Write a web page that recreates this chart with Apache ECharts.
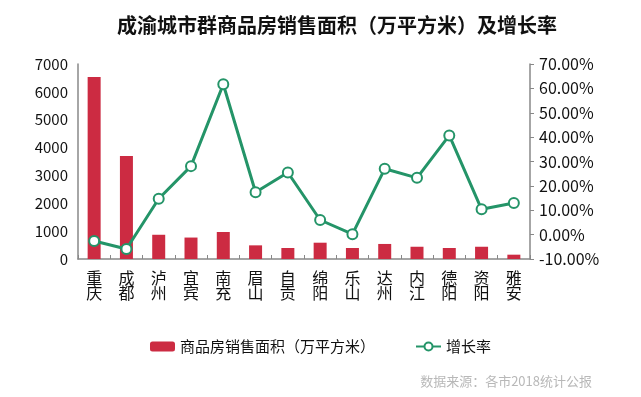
<!DOCTYPE html>
<html>
<head>
<meta charset="utf-8">
<script src="https://cdn.jsdelivr.net/npm/echarts@6/dist/echarts.min.js"></script>
<style>
  html, body { margin: 0; padding: 0; background: #fff; }
  #main { width: 641px; height: 397px; }
</style>
</head>
<body>
<div id="main"></div>
<script>
// data
const cities = ['重庆', '成都', '泸州', '宜宾', '南充', '眉山', '自贡', '绵阳', '乐山', '达州', '内江', '德阳', '资阳', '雅安'];
const salesArea = [6530, 3700, 870, 770, 970, 490, 395, 585, 395, 540, 440, 395, 440, 155];
const growthRate = [-2.6, -5.9, 14.7, 28.1, 61.7, 17.4, 25.5, 6.0, 0.2, 27.0, 23.3, 40.7, 10.4, 13.0];

const font = '"Noto Sans CJK SC", "Noto Sans", sans-serif';

let chart = echarts.init(document.getElementById('main'));

let option = {
    backgroundColor: '#fff',
    textStyle: { fontFamily: font },
    title: [{
        text: '成渝城市群商品房销售面积（万平方米）及增长率',
        left: 112,
        top: 10,
        textStyle: { fontSize: 20, fontWeight: 'bold', color: '#111', fontFamily: font }
    }, {
        text: '数据来源：各市2018统计公报',
        right: 44,
        top: 370,
        textStyle: { fontSize: 13, fontWeight: 'normal', color: '#b8b8b8', fontFamily: font }
    }],
    legend: {
        bottom: 38,
        left: 'center',
        itemWidth: 25,
        itemHeight: 10,
        itemGap: 40,
        textStyle: { fontSize: 15, color: '#111', fontFamily: font },
        data: ['商品房销售面积（万平方米）', '增长率']
    },
    grid: { left: 78, right: 111, top: 64, bottom: 138 },
    xAxis: {
        type: 'category',
        data: cities,
        axisLine: { lineStyle: { color: '#888', width: 1.5 } },
        axisTick: { show: true, inside: true, length: 4, lineStyle: { color: '#888' } },
        axisLabel: {
            color: '#111',
            fontSize: 16,
            lineHeight: 15,
            interval: 0,
            margin: 11,
            formatter: v => v.split('').join('\n')
        }
    },
    yAxis: [{
        type: 'value',
        min: 0,
        max: 7000,
        interval: 1000,
        axisLine: { show: true, lineStyle: { color: '#888', width: 1.5 } },
        axisTick: { show: false },
        splitLine: { show: false },
        axisLabel: { color: '#111', fontSize: 15, margin: 10, formatter: v => String(v) }
    }, {
        type: 'value',
        min: -10,
        max: 70,
        interval: 10,
        axisLine: { show: true, lineStyle: { color: '#888', width: 1.5 } },
        axisTick: { show: true, length: 4, lineStyle: { color: '#888' } },
        splitLine: { show: false },
        axisLabel: { color: '#111', fontSize: 16, margin: 9, formatter: v => v.toFixed(2) + '%' }
    }],
    series: [{
        name: '商品房销售面积（万平方米）',
        type: 'bar',
        data: salesArea,
        barWidth: 13,
        itemStyle: { color: '#cc2b42' }
    }, {
        name: '增长率',
        type: 'line',
        yAxisIndex: 1,
        data: growthRate,
        symbol: 'emptyCircle',
        symbolSize: 10,
        lineStyle: { color: '#249468', width: 3 },
        itemStyle: { color: '#249468', borderWidth: 1.5 }
    }]
};

chart.setOption(option);
</script>
</body>
</html>
